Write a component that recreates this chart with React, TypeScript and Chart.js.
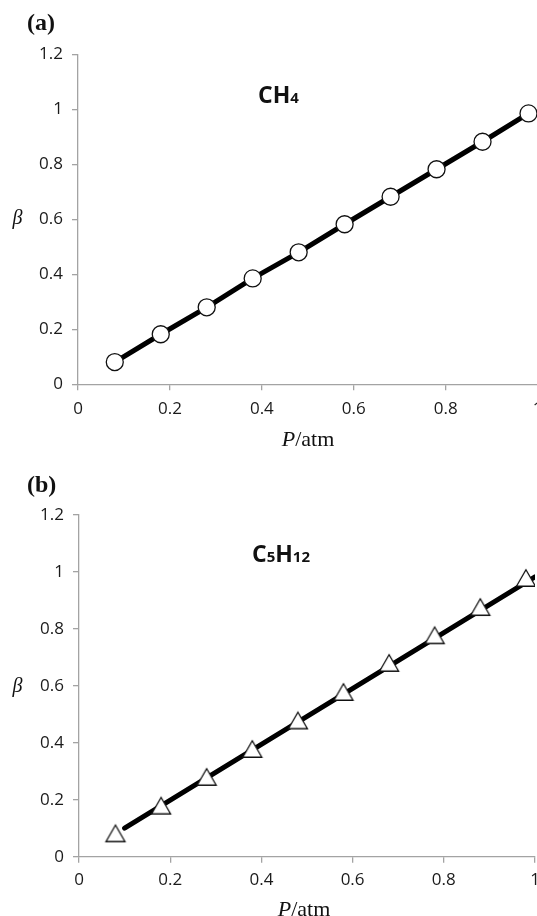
import React, { useEffect, useRef } from 'react';
import { Chart, registerables } from 'chart.js';

Chart.register(...registerables);

// ---- data ----
const pressureCH4 = [0.08, 0.18, 0.28, 0.38, 0.48, 0.58, 0.68, 0.78, 0.88, 0.98];
const betaCH4 = [0.081, 0.182, 0.28, 0.385, 0.48, 0.582, 0.682, 0.782, 0.882, 0.985];
const pressureC5H12 = [0.08, 0.18, 0.28, 0.38, 0.48, 0.58, 0.68, 0.78, 0.88, 0.98];
const betaC5H12 = [0.082, 0.179, 0.28, 0.378, 0.478, 0.578, 0.68, 0.777, 0.876, 0.978];
const fitPressureC5H12 = [0.1, 1.0];
const fitBetaC5H12 = [0.1, 0.982];
const xTickLabels = ['0', '0.2', '0.4', '0.6', '0.8', '1'];
const yTickLabels = ['0', '0.2', '0.4', '0.6', '0.8', '1', '1.2'];

const SERIF = '"Liberation Serif", "Times New Roman", serif';
const SANS = '"Open Sans", "Noto Sans", sans-serif';
const AXIS_GREY = '#a3a3a3';
const CANVAS_W = 580;

type Seg = { t: string; font: string; dy?: number };
type TextRun = { x: number; y: number; segs: Seg[]; center?: boolean };

const annotPlugin = {
  id: 'annot',
  afterDraw(chart: any, _args: any, opts: any) {
    const ctx = chart.ctx as CanvasRenderingContext2D;
    const runs: TextRun[] = opts.runs || [];
    ctx.save();
    ctx.fillStyle = '#111';
    ctx.textBaseline = 'alphabetic';
    ctx.textAlign = 'left';
    for (const run of runs) {
      let total = 0;
      for (const s of run.segs) {
        ctx.font = s.font;
        total += ctx.measureText(s.t).width;
      }
      let x = run.center ? run.x - total / 2 : run.x;
      for (const s of run.segs) {
        ctx.font = s.font;
        ctx.fillText(s.t, x, run.y + (s.dy || 0));
        x += ctx.measureText(s.t).width;
      }
    }
    ctx.restore();
  },
};

function makeTriangle(): HTMLCanvasElement {
  const c = document.createElement('canvas');
  const w = 24;
  const h = 22;
  c.width = w;
  c.height = h;
  const g = c.getContext('2d')!;
  const side = 19;
  const th = (side * Math.sqrt(3)) / 2;
  const cx = w / 2;
  const top = h / 2 - th / 2;
  g.beginPath();
  g.moveTo(cx, top);
  g.lineTo(cx + side / 2, top + th);
  g.lineTo(cx - side / 2, top + th);
  g.closePath();
  g.fillStyle = '#ffffff';
  g.fill();
  g.lineWidth = 1.3;
  g.strokeStyle = '#111';
  g.lineJoin = 'miter';
  g.stroke();
  return c;
}

type PanelOpts = {
  yAxisWidth: number;
  padTop: number;
  padRight: number;
  padBottom: number;
  xTickPad: number;
  runs: TextRun[];
};

function scalesFor(p: PanelOpts) {
  return {
    x: {
      type: 'linear',
      min: 0,
      max: 1,
      ticks: {
        stepSize: 0.2,
        padding: p.xTickPad,
        color: '#1a1a1a',
        font: { family: SANS, size: 17 },
        maxRotation: 0,
        callback: (_v: any, i: number) => xTickLabels[i],
      },
      grid: { display: true, drawOnChartArea: false, drawTicks: true, tickLength: 6, color: AXIS_GREY, lineWidth: 1.3 },
      border: { display: true, color: AXIS_GREY, width: 1.3 },
      afterFit: (s: any) => {
        s.height = 40;
      },
    },
    y: {
      type: 'linear',
      min: 0,
      max: 1.2,
      ticks: {
        stepSize: 0.2,
        padding: 9,
        color: '#1a1a1a',
        font: { family: SANS, size: 17 },
        callback: (_v: any, i: number) => yTickLabels[i],
      },
      grid: { display: true, drawOnChartArea: false, drawTicks: true, tickLength: 6, color: AXIS_GREY, lineWidth: 1.3 },
      border: { display: true, color: AXIS_GREY, width: 1.3 },
      afterFit: (s: any) => {
        s.width = p.yAxisWidth;
      },
    },
  };
}

function Panel({ top, height, build }: { top: number; height: number; build: () => any }) {
  const ref = useRef<HTMLCanvasElement>(null);
  useEffect(() => {
    if (!ref.current) return;
    const chart = new Chart(ref.current, build());
    return () => chart.destroy();
  }, []);
  return (
    <div style={{ position: 'absolute', left: 0, top, width: CANVAS_W, height }}>
      <canvas ref={ref} width={CANVAS_W} height={height} style={{ display: 'block' }} />
    </div>
  );
}

function buildA() {
  const p: PanelOpts = {
    yAxisWidth: 78,
    padTop: 54.3,
    padRight: CANVAS_W - 537.7,
    padBottom: 460 - 384.3 - 40,
    xTickPad: 9,
    runs: [
      { x: 27, y: 30, segs: [{ t: '(a)', font: `bold 24px ${SERIF}` }] },
      { x: 12.5, y: 224, segs: [{ t: 'β', font: `italic 20px ${SERIF}` }] },
      {
        x: 308,
        y: 446,
        center: true,
        segs: [
          { t: 'P', font: `italic 22px ${SERIF}` },
          { t: '/atm', font: `22px ${SERIF}` },
        ],
      },
      {
        x: 258,
        y: 103,
        segs: [
          { t: 'CH', font: `bold 23px ${SANS}` },
          { t: '4', font: `bold 15px ${SANS}` },
        ],
      },
    ],
  };
  return {
    type: 'line',
    data: {
      datasets: [
        {
          data: pressureCH4.map((x, i) => ({ x, y: betaCH4[i] })),
          borderColor: '#000',
          borderWidth: 5,
          pointRadius: 8.5,
          pointHoverRadius: 8.5,
          pointStyle: 'circle',
          pointBackgroundColor: '#fff',
          pointBorderColor: '#111',
          pointBorderWidth: 1.3,
          tension: 0,
          fill: false,
        },
      ],
    },
    options: {
      responsive: false,
      animation: false,
      events: [],
      layout: { padding: { left: 0, top: p.padTop, right: p.padRight, bottom: p.padBottom } },
      plugins: { legend: { display: false }, tooltip: { enabled: false }, annot: { runs: p.runs } },
      scales: scalesFor(p),
    },
    plugins: [annotPlugin],
  };
}

function buildB() {
  const off = 460;
  const p: PanelOpts = {
    yAxisWidth: 79,
    padTop: 514.7 - off,
    padRight: CANVAS_W - 535,
    padBottom: 456 - (856.7 - off) - 40,
    xTickPad: 7,
    runs: [
      { x: 27, y: 491.5 - off, segs: [{ t: '(b)', font: `bold 24px ${SERIF}` }] },
      { x: 12.5, y: 692 - off, segs: [{ t: 'β', font: `italic 20px ${SERIF}` }] },
      {
        x: 304,
        y: 916 - off,
        center: true,
        segs: [
          { t: 'P', font: `italic 22px ${SERIF}` },
          { t: '/atm', font: `22px ${SERIF}` },
        ],
      },
      {
        x: 252,
        y: 562 - off,
        segs: [
          { t: 'C', font: `bold 23px ${SANS}` },
          { t: '5', font: `bold 15px ${SANS}` },
          { t: 'H', font: `bold 23px ${SANS}` },
          { t: '12', font: `bold 15px ${SANS}` },
        ],
      },
    ],
  };
  const tri = makeTriangle();
  return {
    type: 'line',
    data: {
      datasets: [
        {
          data: pressureC5H12.map((x, i) => ({ x, y: betaC5H12[i] })),
          showLine: false,
          pointStyle: tri,
          pointRadius: 10,
          pointHoverRadius: 10,
        },
        {
          data: fitPressureC5H12.map((x, i) => ({ x, y: fitBetaC5H12[i] })),
          borderColor: '#000',
          borderWidth: 5,
          borderCapStyle: 'round',
          pointRadius: 0,
          pointHoverRadius: 0,
          tension: 0,
          fill: false,
        },
      ],
    },
    options: {
      responsive: false,
      animation: false,
      events: [],
      layout: { padding: { left: 0, top: p.padTop, right: p.padRight, bottom: p.padBottom } },
      plugins: { legend: { display: false }, tooltip: { enabled: false }, annot: { runs: p.runs } },
      scales: scalesFor(p),
    },
    plugins: [annotPlugin],
  };
}

export default function App() {
  return (
    <div
      style={{
        position: 'absolute',
        left: 0,
        top: 0,
        width: 537,
        height: 916,
        overflow: 'hidden',
        background: '#fff',
      }}
    >
      <Panel top={0} height={460} build={buildA} />
      <Panel top={460} height={456} build={buildB} />
    </div>
  );
}
